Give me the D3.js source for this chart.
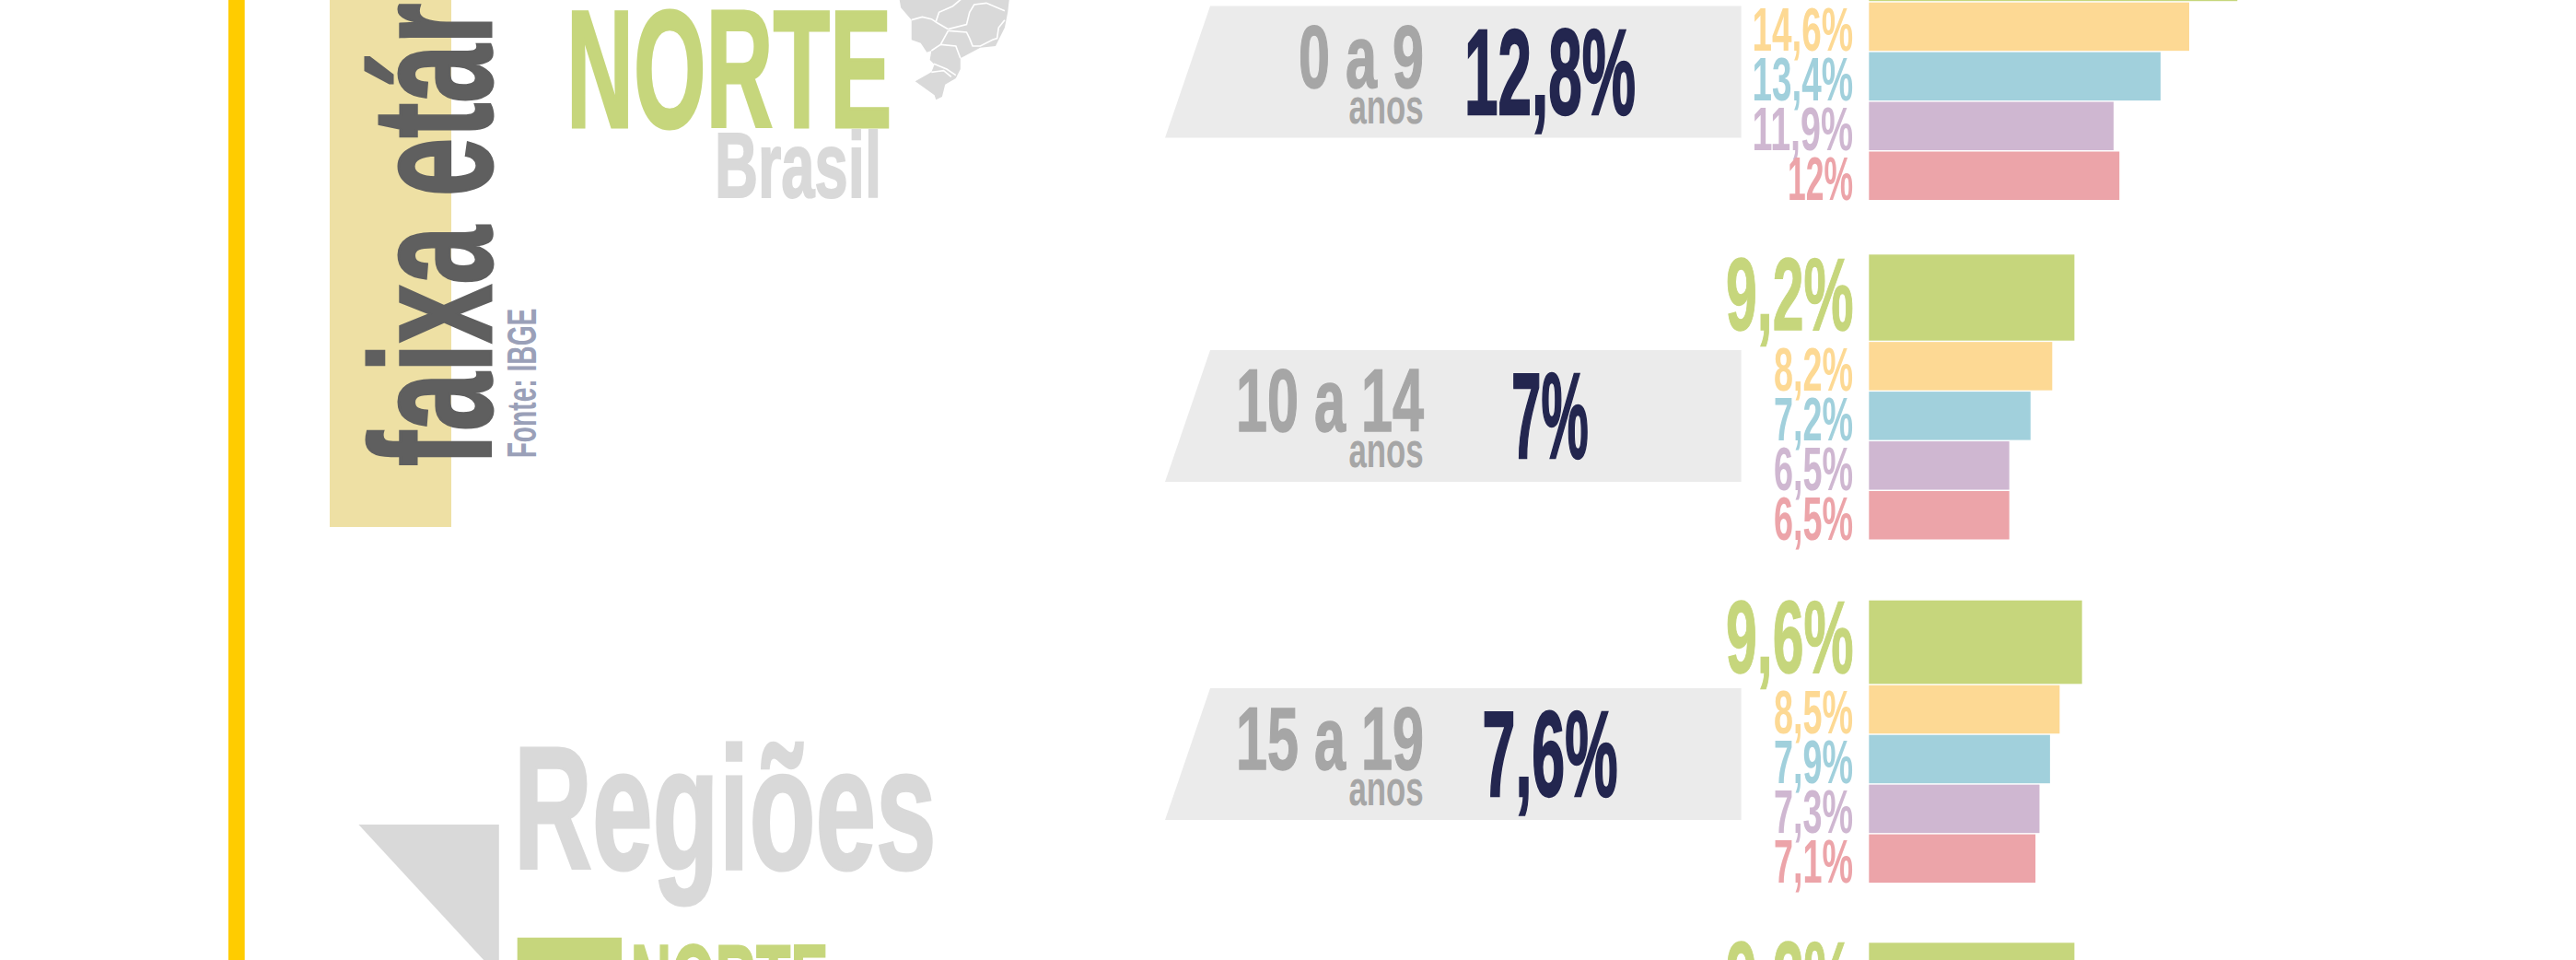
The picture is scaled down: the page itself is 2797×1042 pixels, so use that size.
<!DOCTYPE html>
<html lang="pt">
<head>
<meta charset="utf-8">
<title>Faixa etária — Norte e Brasil</title>
<script src="https://d3js.org/d3.v7.min.js"></script>
<style>
html,body{margin:0;padding:0;background:#fff;overflow:hidden}
svg{display:block}
text{font-family:"Liberation Sans Narrow","Liberation Sans",sans-serif;font-weight:700}
</style>
</head>
<body>
<div id="chart"></div>
<script>
// ---- data ----
const ageGroups   = ["0 a 9", "10 a 14", "15 a 19"];
const brasilLabels = ["12,8%", "7%", "7,6%"];
const regions     = ["Norte", "Nordeste", "Centro-Oeste", "Sudeste", "Sul"];
// printed labels (the top green label and everything below the fold lie outside the picture)
const labels0a9   = [null, "14,6%", "13,4%", "11,9%", "12%"];
const labels10a14 = ["9,2%", "8,2%", "7,2%", "6,5%", "6,5%"];
const labels15a19 = ["9,6%", "8,5%", "7,9%", "7,3%", "7,1%"];
const labels20a24 = ["9,2%"];
// bar lengths as drawn in the picture, in percentage points (the drawn lengths do not always follow the printed label)
const bars0a9     = [16.46, 14.31, 13.03, 10.93, 11.19];
const bars10a14   = [9.18, 8.19, 7.22, 6.27, 6.27];
const bars15a19   = [9.52, 8.52, 8.09, 7.62, 7.44];
const bars20a24   = [9.18];

// ---- layout ----
const W = 2797, H = 1042;
const regionColor = d3.scaleOrdinal(regions, ["#c6d67c", "#fdd994", "#a1d0dc", "#cfb7d1", "#eca4a9"]);
const barX = d3.scaleLinear().domain([0, 1]).range([2029.3, 2029.3 + 24.3]);
const groupTops = [-90.8, 276.3, 651.7, 1023.3];
const greenHeights = [92, 93.4, 90.6, 89];
const panelTops = [6.5, 380, 747];
const rowH = 52.5, rowGap = 1.45;
const labelRight = 2011.4;
const capRatio = 0.688;

const svg = d3.select("#chart").append("svg")
  .attr("width", W).attr("height", H).attr("viewBox", [0, 0, W, H]);

function put(parent, str, o) {
  const fs = o.cap / capRatio;
  const bearing = fs * (o.bearing === undefined ? 0.03 : o.bearing);
  const t = parent.append("text")
    .attr("x", o.x - bearing).attr("y", o.y)
    .attr("font-size", fs)
    .attr("fill", o.fill)
    .text(str);
  if (o.width) t.attr("textLength", o.width + 2 * bearing).attr("lengthAdjust", "spacingAndGlyphs");
  if (o.transform) t.attr("transform", o.transform);
  if (o.stroke) t.attr("stroke", o.fill).attr("stroke-width", o.stroke).attr("stroke-linejoin", "miter");
  return t;
}

// yellow rule + pale title block
svg.append("rect").attr("x", 248).attr("y", 0).attr("width", 17.7).attr("height", H).attr("fill", "#ffcc00");
svg.append("rect").attr("x", 358).attr("y", 0).attr("width", 132).attr("height", 572).attr("fill", "#eee0a4");

// rotated title and source
put(svg, "faixa etária", {x: 0, y: 0, cap: 128, width: 598, bearing: 0, stroke: 3, fill: "#5f5f5f", transform: "translate(533,506) rotate(-90)"});
put(svg, "Fonte: IBGE", {x: 0, y: 0, cap: 31, width: 160, fill: "#9aa0b8", transform: "translate(582,496) rotate(-90)"});

// heading
put(svg, "NORTE", {x: 620.5, y: 138, cap: 125, width: 342.5, stroke: 3, fill: regionColor("Norte")});
put(svg, "Brasil", {x: 779, y: 214, cap: 69, width: 175, stroke: 2, fill: "#d9d9d9"});

// small map of Brazil (decorative, cropped by the top edge)
const mapG = svg.append("g").attr("transform", "translate(600,0) scale(0.3317,0.3333)");
const mapOutline = "M1135,-5 L1140,25 L1175,65 L1175,130 L1205,140 L1225,170 L1240,165 L1235,195 L1250,210 L1240,235 L1187,265 L1250,310 L1255,325 L1275,315 L1285,275 L1320,255 L1335,225 L1335,190 L1400,155 L1450,150 L1480,90 L1490,40 L1495,-5 Z";
const mapBorders = [
  "M1175,65 L1210,55 L1240,62 L1260,75 L1295,95",
  "M1255,70 L1265,40 L1310,20 L1340,-5",
  "M1295,95 L1355,80 L1365,40 L1380,15 L1420,10 L1480,35",
  "M1480,65 L1460,90 L1455,125 L1440,130 L1400,150 L1375,150 L1365,125 L1355,105 L1295,100",
  "M1295,100 L1270,145 L1240,165",
  "M1270,145 L1320,150 L1335,190",
  "M1248,208 L1290,225 L1320,245",
  "M1240,235 L1280,230 L1305,250"
];
mapG.append("path").attr("d", mapOutline).attr("fill", "#d9d9d9");
mapG.selectAll("path.b").data(mapBorders).join("path").attr("class", "b")
  .attr("d", d => d).attr("fill", "none").attr("stroke", "#fff").attr("stroke-width", 5);

// grey panels with the Brasil figures
const ageWidth = s => s.length === 5 ? 134 : 202;
const valWidth = s => s.length === 5 ? 184.6 : s.length === 4 ? 145.6 : 82;
const panelH = 143;
ageGroups.forEach((age, i) => {
  const top = panelTops[i];
  svg.append("path")
    .attr("d", d3.line()([[1314, top], [1890.6, top], [1890.6, top + panelH], [1265, top + panelH]]) + "Z")
    .attr("fill", "#ebebeb");
  put(svg, age, {x: 1545 - ageWidth(age), y: top + 88, cap: 66, width: ageWidth(age), bearing: 0.01, stroke: 1.5, fill: "#a6a6a6"});
  put(svg, "anos", {x: 1466, y: top + 127, cap: 37, width: 78, fill: "#a6a6a6"});
  const v = brasilLabels[i];
  put(svg, v, {x: 1683 - valWidth(v) / 2, y: top + 117, cap: 90, width: valWidth(v), bearing: 0.005, stroke: 2.5, fill: "#23264f"});
});

// region bars and their labels
const groups = [
  {bars: bars0a9, labels: labels0a9},
  {bars: bars10a14, labels: labels10a14},
  {bars: bars15a19, labels: labels15a19},
  {bars: bars20a24, labels: labels20a24}
];
const labelWidth = (s, cap) => cap * (s.length === 5 ? 2.33 : s.length === 4 ? (cap > 60 ? 1.77 : 1.82) : 1.5);
groups.forEach((g, gi) => {
  let y = groupTops[gi];
  g.bars.forEach((v, ri) => {
    const h = ri === 0 ? greenHeights[gi] : rowH;
    const c = regionColor(regions[ri]);
    svg.append("rect").attr("x", barX(0)).attr("y", y)
      .attr("width", barX(v) - barX(0)).attr("height", h).attr("fill", c);
    const s = g.labels[ri];
    if (s) {
      const cap = ri === 0 ? 77 : 46.5;
      const w = labelWidth(s, cap);
      put(svg, s, {x: labelRight - w, y: ri === 0 ? y + h - 12 : y + h, cap, width: w, bearing: 0.01, stroke: ri === 0 ? 1.5 : 0, fill: c});
    }
    y += h + rowGap;
  });
});

// lower-left block: "Regiões" heading and start of the legend
svg.append("path")
  .attr("d", d3.line()([[389.4, 895], [541.8, 895], [541.8, 1060]]) + "Z")
  .attr("fill", "#d9d9d9");
put(svg, "Regiões", {x: 563.5, y: 943, cap: 130, width: 447.5, stroke: 3, fill: "#d9d9d9"});
svg.append("rect").attr("x", 561.7).attr("y", 1017.7).attr("width", 113.3).attr("height", 60).attr("fill", regionColor("Norte"));
put(svg, "NORTE", {x: 688, y: 1103, cap: 77, width: 208, stroke: 2, fill: regionColor("Norte")});
</script>
</body>
</html>
